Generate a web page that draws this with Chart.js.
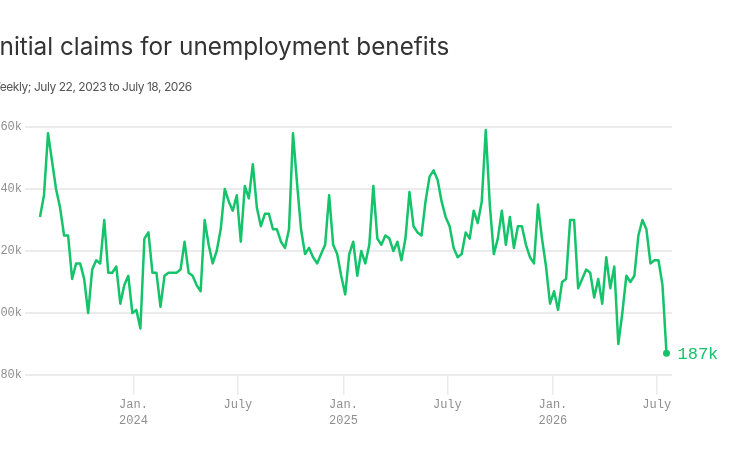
<!DOCTYPE html>
<html>
<head>
<meta charset="utf-8">
<script src="https://cdn.jsdelivr.net/npm/chart.js@4"></script>
<style>
    html, body {
        margin: 0;
        padding: 0;
        background: #ffffff;
        width: 733px;
        height: 465px;
        overflow: hidden;
        position: relative;
    }
    #title {
        position: absolute;
        left: -7px;
        top: 31px;
        font-family: Inter, "Noto Sans", sans-serif;
        font-size: 24.3px;
        font-weight: 400;
        color: #333333;
        white-space: nowrap;
        z-index: 2;
    }
    #subtitle {
        position: absolute;
        left: -11px;
        top: 79px;
        font-family: Inter, "Noto Sans", sans-serif;
        font-size: 12px;
        letter-spacing: -0.45px;
        color: #555555;
        white-space: nowrap;
        z-index: 2;
    }
    #chart {
        position: absolute;
        left: -20px;
        top: 0;
    }
</style>
</head>
<body>
<div id="title">Initial claims for unemployment benefits</div>
<div id="subtitle">Weekly; July 22, 2023 to July 18, 2026</div>
<canvas id="chart" width="753" height="465"></canvas>
<script>
// DATA (initial claims, thousands, weekly from the start date)
const startDate = '2023-07-22';
const claims = [
    231, 238, 258, 249, 240, 234, 225, 225, 211, 216,
    216, 211, 200, 214, 217, 216, 230, 213, 213, 215,
    203, 209, 212, 200, 201, 195, 224, 226, 213, 213,
    202, 212, 213, 213, 213, 214, 223, 213, 212, 209,
    207, 230, 222, 216, 220, 227, 240, 236, 233, 238,
    223, 241, 237, 248, 234, 228, 232, 232, 227, 227,
    223, 221, 227, 258, 242, 227, 219, 221, 218, 216,
    219, 222, 238, 222, 219, 212, 206, 219, 223, 212,
    220, 216, 222, 241, 224, 222, 225, 224, 220, 223,
    217, 224, 239, 228, 226, 225, 236, 244, 246, 243,
    236, 231, 228, 221, 218, 219, 226, 224, 233, 229,
    236, 259, 235, 219, 224, 233, 222, 231, 221, 228,
    228, 222, 218, 216, 235, 224, 215, 203, 207, 201,
    210, 211, 230, 230, 208, 211, 214, 213, 205, 211,
    203, 218, 208, 215, 190, 200, 212, 210, 212, 225,
    230, 227, 216, 217, 217, 209, 187
];
const tickDates = ['2024-01-01', '2024-07-01', '2025-01-01', '2025-07-01', '2026-01-01', '2026-07-01'];
const tickLabels = [['Jan.', '2024'], 'July', ['Jan.', '2025'], 'July', ['Jan.', '2026'], 'July'];
const yTicks = [180, 200, 220, 240, 260];

const LINE_COLOR = '#14c36a';
const GRID_COLOR = '#ebebeb';
const TICK_COLOR = '#8f8f8f';
const MONO = '"Liberation Mono", "DejaVu Sans Mono", monospace';

// week offset of a date from the start date
function weeksFromStart(dateStr) {
    const ms = Date.parse(dateStr + 'T00:00:00Z') - Date.parse(startDate + 'T00:00:00Z');
    return ms / (7 * 86400000);
}

const points = claims.map((v, i) => ({ x: i, y: v }));
const tickPositions = tickDates.map(weeksFromStart);

// label + dot at the last value
const endLabel = {
    id: 'endLabel',
    afterDatasetsDraw(chart) {
        const meta = chart.getDatasetMeta(0);
        const last = meta.data[meta.data.length - 1];
        if (!last) return;
        const ctx = chart.ctx;
        ctx.save();
        ctx.font = '17px ' + MONO;
        ctx.fillStyle = LINE_COLOR;
        ctx.textAlign = 'left';
        ctx.textBaseline = 'middle';
        ctx.fillText(claims[claims.length - 1] + 'k', last.x + 11, last.y + 1);
        ctx.restore();
    }
};

new Chart(document.getElementById('chart'), {
    type: 'line',
    data: {
        datasets: [{
            data: points,
            borderColor: LINE_COLOR,
            backgroundColor: LINE_COLOR,
            borderWidth: 2.5,
            borderJoinStyle: 'round',
            tension: 0,
            pointRadius: ctx => ctx.dataIndex === claims.length - 1 ? 3.5 : 0,
            pointBorderWidth: 0,
            pointHoverRadius: 0
        }]
    },
    options: {
        responsive: false,
        devicePixelRatio: 1,
        animation: false,
        events: [],
        layout: {
            padding: { top: 127, right: 61, bottom: 0, left: 0 }
        },
        plugins: {
            legend: { display: false },
            tooltip: { enabled: false },
            title: { display: false }
        },
        scales: {
            x: {
                type: 'linear',
                min: -3.73,
                max: 157.37,
                afterFit(scale) { scale.height = 90; },
                afterBuildTicks(scale) {
                    scale.ticks = tickPositions.map(v => ({ value: v }));
                },
                border: { display: false },
                grid: {
                    drawOnChartArea: false,
                    drawTicks: true,
                    tickLength: 20,
                    color: GRID_COLOR,
                    lineWidth: 1.5
                },
                ticks: {
                    autoSkip: false,
                    maxRotation: 0,
                    padding: 2,
                    color: TICK_COLOR,
                    font: { family: MONO, size: 12, lineHeight: 1.33 },
                    callback: (value, index) => tickLabels[index]
                }
            },
            y: {
                min: 180,
                max: 260,
                afterFit(scale) { scale.width = 45; },
                afterBuildTicks(scale) {
                    scale.ticks = yTicks.map(v => ({ value: v }));
                },
                border: { display: false },
                grid: {
                    drawTicks: false,
                    color: GRID_COLOR,
                    lineWidth: 2
                },
                ticks: {
                    padding: 3,
                    color: TICK_COLOR,
                    font: { family: MONO, size: 12 },
                    callback: value => value + 'k'
                }
            }
        }
    },
    plugins: [endLabel]
});
</script>
</body>
</html>
